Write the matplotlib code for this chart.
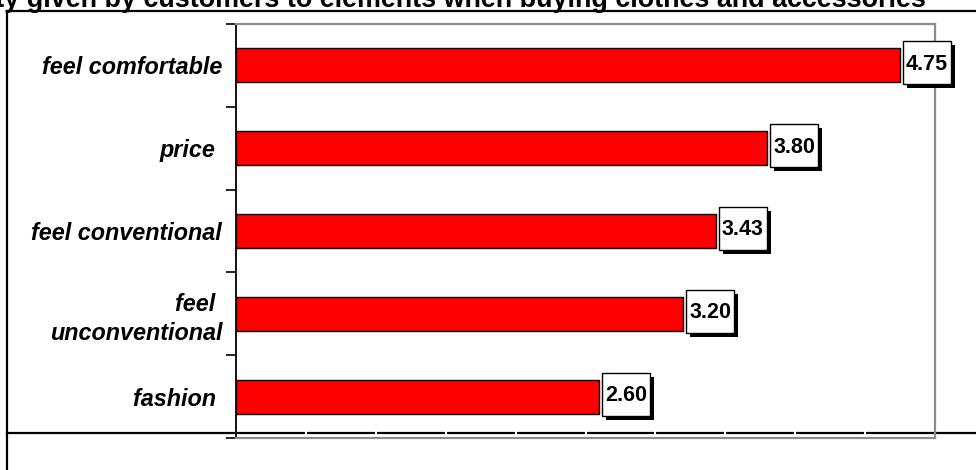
import matplotlib.pyplot as plt
from matplotlib.lines import Line2D
from matplotlib.patches import Rectangle
from matplotlib.transforms import IdentityTransform
from matplotlib import font_manager
import numpy as np

categories = ["fashion ", "feel \nunconventional", "feel conventional", "price ", "feel comfortable"]
scores = [2.60, 3.20, 3.43, 3.80, 4.75]
title = "Priority given by customers to elements when buying clothes and accessories"

W, H = 976, 470
fig = plt.figure(figsize=(W / 100, H / 100), dpi=100)

names = {f.name for f in font_manager.fontManager.ttflist}
num_font = "Liberation Sans Narrow" if "Liberation Sans Narrow" in names else "Liberation Sans"
num_size = 18 if num_font == "Liberation Sans Narrow" else 15.5


def px(x, y):
    return x / W, 1 - y / H


# chart frame lines
for (x0, y0), (x1, y1) in [((7, 11), (7, 475)), ((7, 11), (980, 11)), ((7, 433), (980, 433))]:
    (fx0, fy0), (fx1, fy1) = px(x0, y0), px(x1, y1)
    fig.add_artist(Line2D([fx0, fx1], [fy0, fy1], color="black", lw=1.6, zorder=-1))

fig.text(926 / W, 1 - 7 / H, title, ha="right", va="baseline",
         fontsize=19.35, fontweight="bold", family="Liberation Sans")

left, right, top, bottom = 236, 935, 24, 438
ax = fig.add_axes([left / W, 1 - bottom / H, (right - left) / W, (bottom - top) / H])
ax.patch.set_alpha(0)

y = np.arange(len(categories))
ax.barh(y, scores, height=0.41, color="#ff0000", edgecolor="black", linewidth=1.0, zorder=2)

ax.set_xlim(0, 5)
ax.set_ylim(-0.5, len(categories) - 0.5)
ax.set_xticks(np.arange(0, 5.01, 0.5))
ax.set_xticklabels([])
ax.tick_params(axis="x", direction="in", length=6, width=1.5, color="white")

ax.set_yticks(y)
ax.set_yticklabels(categories, fontsize=16.8, fontweight="bold", fontstyle="italic",
                   family="Liberation Sans", linespacing=1.3)
ax.set_yticks(np.arange(-0.5, len(categories), 1.0), minor=True)
ax.tick_params(axis="y", which="major", length=0, pad=10)
ax.tick_params(axis="y", which="minor", length=7, width=1.2, color="black")

for side in ["top", "right", "bottom"]:
    ax.spines[side].set_color("#8c8c8c")
    ax.spines[side].set_linewidth(1.6)
ax.spines["left"].set_color("black")
ax.spines["left"].set_linewidth(1.3)

# value boxes with drop shadow, placed just right of each bar end
bw, bh = 48, 43
for yi, v in zip(y, scores):
    xd, yd = ax.transData.transform((v, yi))
    x0 = xd + 3
    y0 = yd + 2.5 - bh / 2
    ax.add_patch(Rectangle((x0 + 4, y0 - 4), bw, bh, facecolor="black", edgecolor="none",
                           transform=IdentityTransform(), zorder=4, clip_on=False))
    ax.add_patch(Rectangle((x0, y0), bw, bh, facecolor="white", edgecolor="black", lw=1.0,
                           transform=IdentityTransform(), zorder=5, clip_on=False))
    ax.annotate(f"{v:.2f}", xy=(v, yi), xytext=(27 / 1.389, -4.5 / 1.389),
                textcoords="offset points", ha="center", va="baseline",
                fontsize=num_size, fontweight="bold", family=num_font,
                zorder=6, annotation_clip=False)

fig.savefig("out.png", dpi=100)
